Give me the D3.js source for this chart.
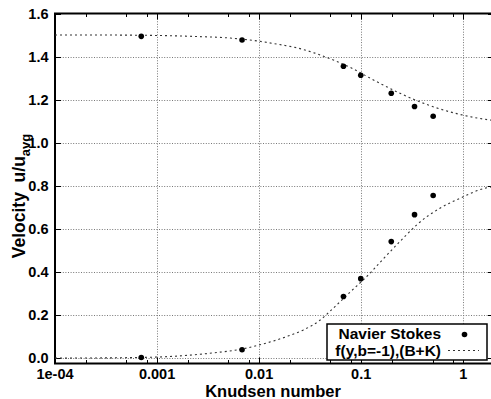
<!DOCTYPE html>
<html><head><meta charset="utf-8">
<script src="https://cdn.jsdelivr.net/npm/d3@7"></script>
<style>body{margin:0;background:#fff}svg{display:block;font-family:"Liberation Sans",Arial,Helvetica,sans-serif}</style>
</head><body>
<svg id="chart" width="491" height="399"></svg>
<script>
// Navier Stokes points
const knudsen = [0.0007, 0.0068, 0.067, 0.099, 0.197, 0.333, 0.507];
const nsUpper = [1.494, 1.477, 1.355, 1.313, 1.230, 1.168, 1.123];
const nsLower = [0.003, 0.039, 0.286, 0.369, 0.541, 0.666, 0.755];
// f(y,b=-1),(B+K) curves
const fitUpperKn = [1e-4, 3e-4, 1e-3, 2.5e-3, 5.2e-3, 0.0101, 0.0149, 0.0233, 0.0352, 0.0533, 0.0777, 0.136, 0.249, 0.454, 0.83, 1.57, 2.0];
const fitUpper   = [1.500, 1.500, 1.498, 1.493, 1.486, 1.471, 1.458, 1.441, 1.416, 1.384, 1.350, 1.288, 1.226, 1.175, 1.137, 1.110, 1.103];
const fitLowerKn = [1e-4, 3e-4, 1e-3, 2e-3, 3.84e-3, 6.8e-3, 0.0102, 0.0186, 0.0271, 0.038, 0.0533, 0.0777, 0.122, 0.164, 0.258, 0.35, 0.591, 0.929, 1.63, 2.0];
const fitLower   = [0.000, 0.001, 0.005, 0.013, 0.026, 0.042, 0.062, 0.100, 0.131, 0.170, 0.232, 0.306, 0.394, 0.460, 0.557, 0.619, 0.696, 0.742, 0.789, 0.797];
// axes
const xTickValues = [1e-4, 1e-3, 1e-2, 1e-1, 1];
const xTickLabels = ["1e-04", "0.001", "0.01", "0.1", "1"];
const xMinorTicks = [2e-4, 5e-4, 8e-4, 2e-3, 5e-3, 8e-3, 2e-2, 5e-2, 8e-2, 0.2, 0.5, 0.8];
const yTickValues = [0, 0.2, 0.4, 0.6, 0.8, 1.0, 1.2, 1.4, 1.6];
const yTickLabels = ["0.0", "0.2", "0.4", "0.6", "0.8", "1.0", "1.2", "1.4", "1.6"];

const L = 55, R = 494, T = 13.5, B = 363.5;
const svg = d3.select("#chart");
const x = d3.scaleLog().domain([1e-4, 2]).range([L, R]);
const y = d3.scaleLinear().domain([-0.025, 1.6]).range([B, T]);

// gridlines
const grid = svg.append("g").attr("stroke", "#777").attr("stroke-width", 1).attr("stroke-dasharray", "1,1.6");
grid.selectAll(".gx").data(xTickValues.slice(1)).enter().append("line")
  .attr("x1", d => Math.round(x(d)) + 0.5).attr("x2", d => Math.round(x(d)) + 0.5)
  .attr("y1", T).attr("y2", B);
grid.selectAll(".gy").data(yTickValues.slice(0, -1)).enter().append("line")
  .attr("x1", L).attr("x2", R)
  .attr("y1", d => Math.round(y(d)) + 0.5).attr("y2", d => Math.round(y(d)) + 0.5);

// ticks (inward)
const tk = svg.append("g").attr("stroke", "#000").attr("stroke-width", 1);
xTickValues.forEach(v => {
  const px = Math.round(x(v)) + 0.5;
  tk.append("line").attr("x1", px).attr("x2", px).attr("y1", B).attr("y2", B - 6);
  tk.append("line").attr("x1", px).attr("x2", px).attr("y1", T).attr("y2", T + 6);
});
xMinorTicks.forEach(v => {
  const px = Math.round(x(v)) + 0.5;
  tk.append("line").attr("x1", px).attr("x2", px).attr("y1", B).attr("y2", B - 3.5);
  tk.append("line").attr("x1", px).attr("x2", px).attr("y1", T).attr("y2", T + 3.5);
});
yTickValues.forEach(v => {
  const py = Math.round(y(v)) + 0.5;
  tk.append("line").attr("x1", L).attr("x2", L + 6).attr("y1", py).attr("y2", py);
  tk.append("line").attr("x1", R).attr("x2", R - 6).attr("y1", py).attr("y2", py);
});

// frame
svg.append("rect").attr("x", L).attr("y", T).attr("width", R - L).attr("height", B - T)
  .attr("fill", "none").attr("stroke", "#000").attr("stroke-width", 2);

// tick labels
const lab = svg.append("g").attr("font-size", 14.5).attr("font-weight", "bold").attr("fill", "#000");
xTickValues.forEach((v, i) => {
  lab.append("text").attr("x", x(v)).attr("y", 378.5).attr("text-anchor", "middle").text(xTickLabels[i]);
});
yTickValues.forEach((v, i) => {
  lab.append("text").attr("x", 48.5).attr("y", y(v) + 5).attr("text-anchor", "end").text(yTickLabels[i]);
});

// axis titles
svg.append("text").attr("x", 273).attr("y", 396.5).attr("text-anchor", "middle")
  .attr("font-size", 16.5).attr("font-weight", "bold").text("Knudsen number");
const yl = svg.append("text").attr("transform", "translate(25,196) rotate(-90)")
  .attr("text-anchor", "middle").attr("font-size", 17.5).attr("font-weight", "bold");
yl.append("tspan").text("Velocity\u00a0\u00a0u/u");
yl.append("tspan").attr("font-size", 13).attr("dy", 5).text("avg");

// curves
const line = d3.line().x(d => x(d[0])).y(d => y(d[1])).curve(d3.curveMonotoneX);
const curves = svg.append("g").attr("fill", "none").attr("stroke", "#333").attr("stroke-width", 1.1).attr("stroke-dasharray", "2,3");
curves.append("path").attr("d", line(fitUpperKn.map((k, i) => [k, fitUpper[i]])));
curves.append("path").attr("d", line(fitLowerKn.map((k, i) => [k, fitLower[i]])));

// points
const pts = svg.append("g").attr("fill", "#000");
knudsen.forEach((k, i) => {
  pts.append("circle").attr("cx", x(k)).attr("cy", y(nsUpper[i])).attr("r", 2.8);
  pts.append("circle").attr("cx", x(k)).attr("cy", y(nsLower[i])).attr("r", 2.8);
});

// legend
const lg = svg.append("g");
lg.append("rect").attr("x", 327).attr("y", 324).attr("width", 160).attr("height", 36)
  .attr("fill", "#fff").attr("stroke", "#000").attr("stroke-width", 1.5);
lg.append("text").attr("x", 441).attr("y", 339).attr("text-anchor", "end")
  .attr("font-size", 15.5).attr("font-weight", "bold").text("Navier Stokes");
lg.append("text").attr("x", 441).attr("y", 355.5).attr("text-anchor", "end")
  .attr("font-size", 15.5).attr("font-weight", "bold").text("f(y,b=-1),(B+K)");
lg.append("circle").attr("cx", 464.5).attr("cy", 334.5).attr("r", 2.8).attr("fill", "#000");
lg.append("line").attr("x1", 448).attr("x2", 479).attr("y1", 350.5).attr("y2", 350.5)
  .attr("stroke", "#333").attr("stroke-width", 1.1).attr("stroke-dasharray", "2,3");
</script>
</body></html>
